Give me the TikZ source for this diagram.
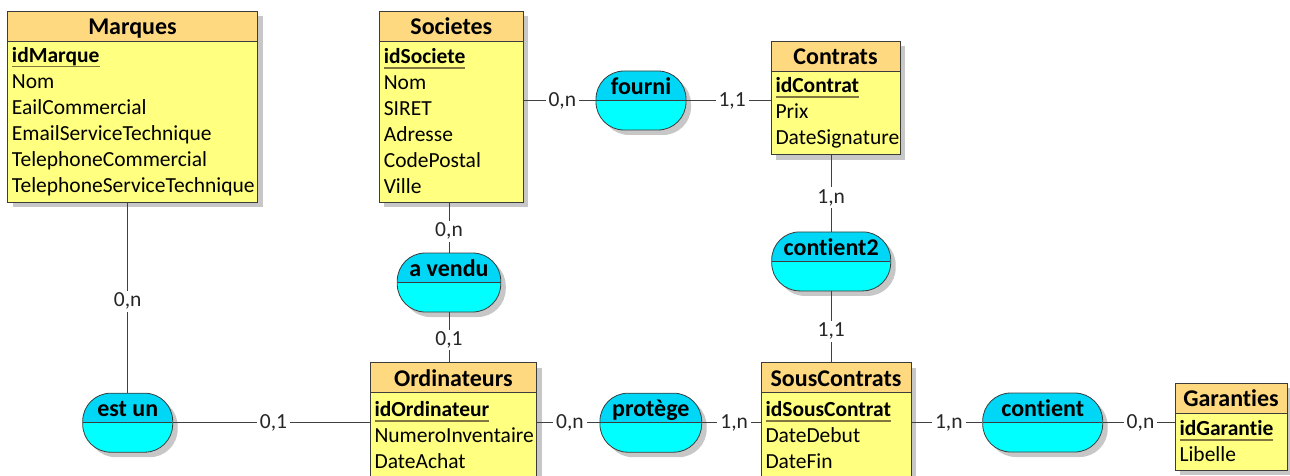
\documentclass[tikz,border=0pt]{standalone}
\usepackage{fontspec}
\setmainfont{Carlito}[Ligatures={NoCommon,NoContextual}]
\usetikzlibrary{positioning,shadows}

\definecolor{headfill}{RGB}{255,217,128}
\definecolor{bodyfill}{RGB}{255,255,128}
\definecolor{assoctop}{RGB}{0,214,245}
\definecolor{assocfill}{RGB}{0,255,255}
\definecolor{boxline}{RGB}{60,60,60}
\definecolor{keyline}{RGB}{128,118,64}

\newlength\pkwidth
\newcommand\pk[1]{\settowidth\pkwidth{\bfseries #1}\rlap{\bfseries #1}\textcolor{keyline}{\rule[-5pt]{\pkwidth}{1.5pt}}}
\newcommand\attrfont{\fontsize{21.5}{26}\selectfont}
\newcommand\titlefont{\fontsize{24}{26}\selectfont\bfseries}

\tikzset{
  boxshadow/.style={drop shadow={shadow xshift=5pt, shadow yshift=-5pt, fill=black!22, opacity=1}},
  enthead/.style={draw=boxline, line width=0.8pt, fill=headfill, font=\titlefont, minimum height=30pt, inner sep=0pt, outer sep=0pt, text height=20pt, text depth=3pt, boxshadow},
  entbody/.style={draw=boxline, line width=0.8pt, fill=bodyfill, font=\attrfont, align=left, inner xsep=4.5pt, inner ysep=0pt, outer sep=0pt, boxshadow},
  assoc/.style={draw=boxline, line width=0.8pt, fill=assocfill, rounded corners=28pt, minimum height=59pt, inner sep=0pt, font=\titlefont, text height=16pt, text depth=28pt, boxshadow,
    path picture={
      \fill[assoctop, sharp corners] (path picture bounding box.north west) rectangle (path picture bounding box.east);
      \draw[boxline, line width=0.8pt] (path picture bounding box.west) -- (path picture bounding box.east);}},
  card/.style={fill=white, font=\attrfont, text=black!85, inner xsep=3pt, inner ysep=2pt},
  link/.style={draw=black!75, line width=0.8pt}
}

\begin{document}
\begin{tikzpicture}[x=1pt, y=-1pt]
  \useasboundingbox (0,0) rectangle (1290,476);

  % Entities
  \node[enthead, minimum width=250pt] (marq) at (132.5,26) {Marques};
  \node[entbody, text width=241pt, minimum height=161pt, below=0pt of marq] (marqb)
    {\pk{idMarque}\\Nom\\EailCommercial\\EmailServiceTechnique\\TelephoneCommercial\\TelephoneServiceTechnique};

  \node[enthead, minimum width=144pt] (soc) at (451.3,26) {Societes};
  \node[entbody, text width=135pt, minimum height=161pt, below=0pt of soc] (socb)
    {\pk{idSociete}\\Nom\\SIRET\\Adresse\\CodePostal\\Ville};

  \node[enthead, minimum width=129pt] (cont) at (835.5,56.5) {Contrats};
  \node[entbody, text width=120pt, minimum height=83pt, below=0pt of cont] (contb)
    {\pk{idContrat}\\Prix\\DateSignature};

  \node[enthead, minimum width=166.5pt] (ord) at (453.3,377.7) {Ordinateurs};
  \node[entbody, text width=157.5pt, minimum height=85pt, below=0pt of ord] (ordb)
    {\pk{idOrdinateur}\\NumeroInventaire\\DateAchat};

  \node[enthead, minimum width=150pt] (sousc) at (836,377.6) {SousContrats};
  \node[entbody, text width=141pt, minimum height=85pt, below=0pt of sousc] (souscb)
    {\pk{idSousContrat}\\DateDebut\\DateFin};

  \node[enthead, minimum width=112pt] (gar) at (1231,398) {Garanties};
  \node[entbody, text width=103pt, minimum height=57pt, below=0pt of gar] (garb)
    {\pk{idGarantie}\\Libelle};

  % Associations
  \node[assoc, minimum width=90pt] (fourni) at (641,100.5) {fourni};
  \node[assoc, minimum width=103.5pt] (vendu) at (449,282.5) {a vendu};
  \node[assoc, minimum width=119pt] (cont2) at (831.2,261.4) {contient2};
  \node[assoc, minimum width=90pt] (estun) at (127.7,422.7) {est un};
  \node[assoc, minimum width=101.7pt] (protege) at (650.8,422.7) {protège};
  \node[assoc, minimum width=120pt] (contient) at (1042.7,422.5) {contient};

  % Links with cardinalities
  \draw[link] (estun.north |- marqb.south) -- (estun.north) node[card, pos=.52] (c1) {0,n};
  \draw[link] (estun.east) -- (estun.east -| ordb.west) node[card, pos=.51] (c2) {0,1};
  \draw[link] (vendu.north |- socb.south) -- (vendu.north) node[card, pos=.58] (c3) {0,n};
  \draw[link] (vendu.south) -- (vendu.south |- ord.north) node[card, pos=.55] (c4) {0,1};
  \draw[link] (fourni.west -| socb.east) -- (fourni.west) node[card, pos=.54] (c5) {0,n};
  \draw[link] (fourni.east) -- (fourni.east -| contb.west) node[card, pos=.54] (c6) {1,1};
  \draw[link] (cont2.north |- contb.south) -- (cont2.north) node[card, pos=.56] (c7) {1,n};
  \draw[link] (cont2.south) -- (cont2.south |- sousc.north) node[card, pos=.56] (c8) {1,1};
  \draw[link] (protege.west -| ordb.east) -- (protege.west) node[card, pos=.53] (c9) {0,n};
  \draw[link] (protege.east) -- (protege.east -| souscb.west) node[card, pos=.545] (c10) {1,n};
  \draw[link] (contient.west -| souscb.east) -- (contient.west) node[card, pos=.53] (c11) {1,n};
  \draw[link] (contient.east) -- (contient.east -| garb.west) node[card, pos=.52] (c12) {0,n};
\end{tikzpicture}
\end{document}
